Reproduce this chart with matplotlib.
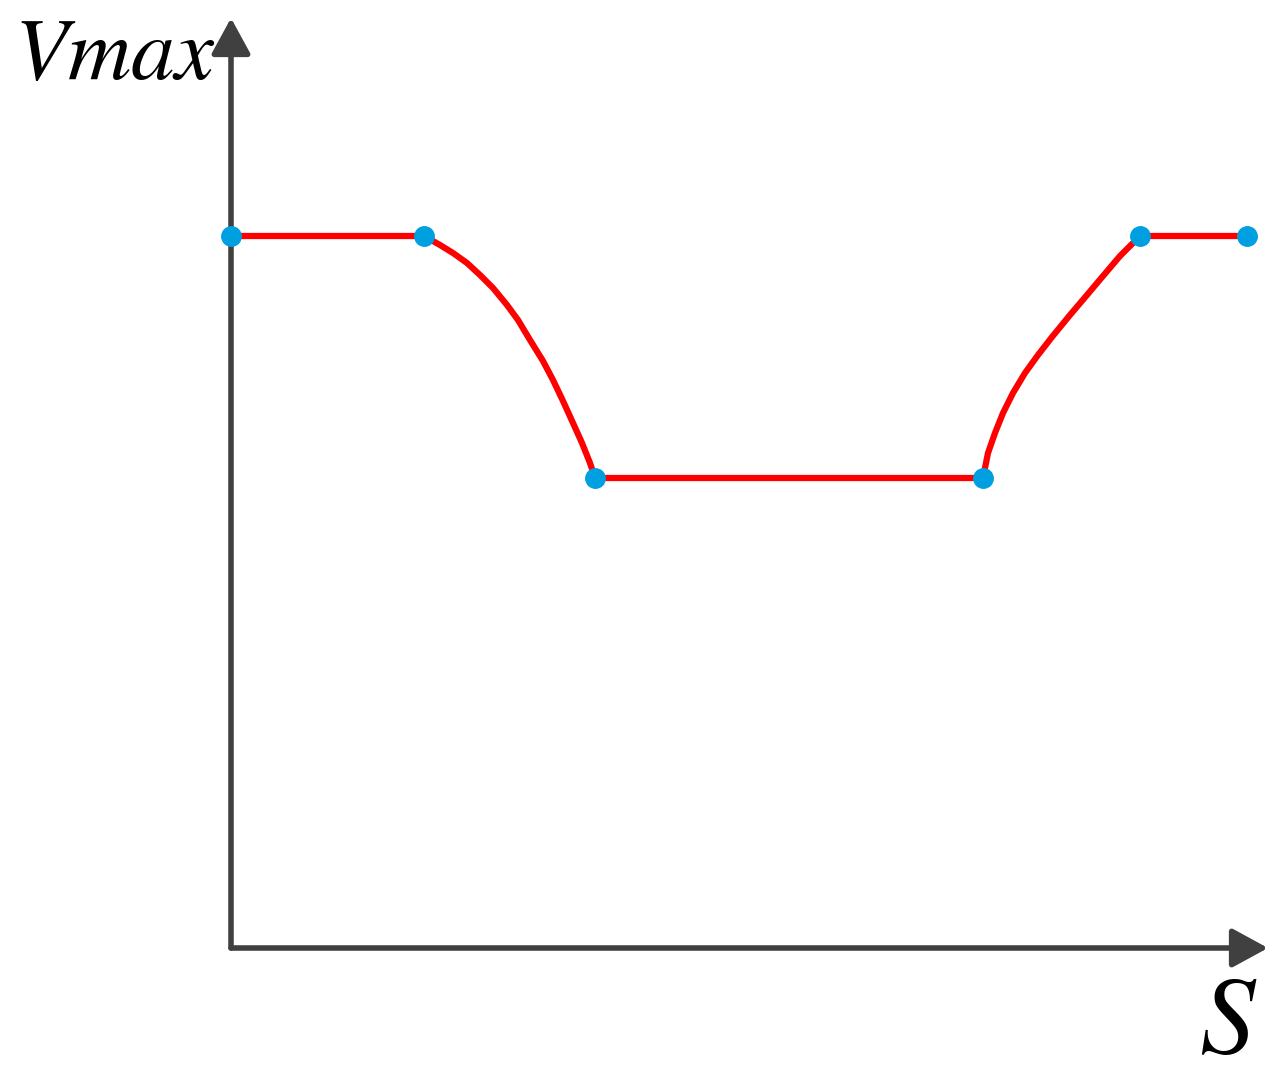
import numpy as np
import matplotlib.pyplot as plt

plt.rcParams['mathtext.fontset'] = 'stix'

# knot points of the speed profile (S, Vmax)
knot_s = [0.0, 1.93, 3.64, 7.52, 9.09, 10.16]
knot_v = [7.12, 7.12, 4.70, 4.70, 7.12, 7.12]

# braking curve
brake_s = [1.93, 2.09, 2.22, 2.36, 2.49, 2.62, 2.76, 2.87, 2.99, 3.12,
           3.22, 3.32, 3.42, 3.51, 3.59, 3.64]
brake_v = [7.12, 7.03, 6.95, 6.85, 6.73, 6.60, 6.43, 6.28, 6.08, 5.87,
           5.68, 5.47, 5.25, 5.05, 4.85, 4.70]

# acceleration curve
accel_s = [7.52, 7.57, 7.64, 7.72, 7.82, 7.94, 8.07, 8.21, 8.39, 8.56,
           8.72, 8.89, 9.02, 9.09]
accel_v = [4.70, 4.95, 5.15, 5.35, 5.55, 5.75, 5.93, 6.11, 6.33, 6.53,
           6.72, 6.92, 7.05, 7.12]

s_all = [knot_s[0]] + brake_s + accel_s + [knot_s[-1]]
v_all = [knot_v[0]] + brake_v + accel_v + [knot_v[-1]]

fig = plt.figure(figsize=(12.85, 10.68), dpi=100)
ax = fig.add_axes([0, 0, 1, 1])
ax.set_xlim(-2.31, 10.54)
ax.set_ylim(-1.20, 9.48)
ax.axis('off')

axis_col = '#404040'
arrow = dict(arrowstyle='-|>,head_length=2.2,head_width=1.2', mutation_scale=10,
             color=axis_col, lw=4, shrinkA=0, shrinkB=0)
ax.annotate('', xy=(10.37, 0), xytext=(0, 0), arrowprops=arrow)
ax.annotate('', xy=(0, 9.30), xytext=(0, 0), arrowprops=arrow)

ax.plot(s_all, v_all, color='#ff0000', lw=4.5, solid_capstyle='round',
        solid_joinstyle='round', zorder=3)
ax.plot(knot_s, knot_v, 'o', color='#00a0e0', ms=14, zorder=4)

ax.text(-2.17, 8.69, r'$Vmax$', ha='left', va='baseline', size=63)
ax.text(9.68, -1.05, r'$S$', ha='left', va='baseline', size=80)

plt.savefig('out.png', dpi=100)
